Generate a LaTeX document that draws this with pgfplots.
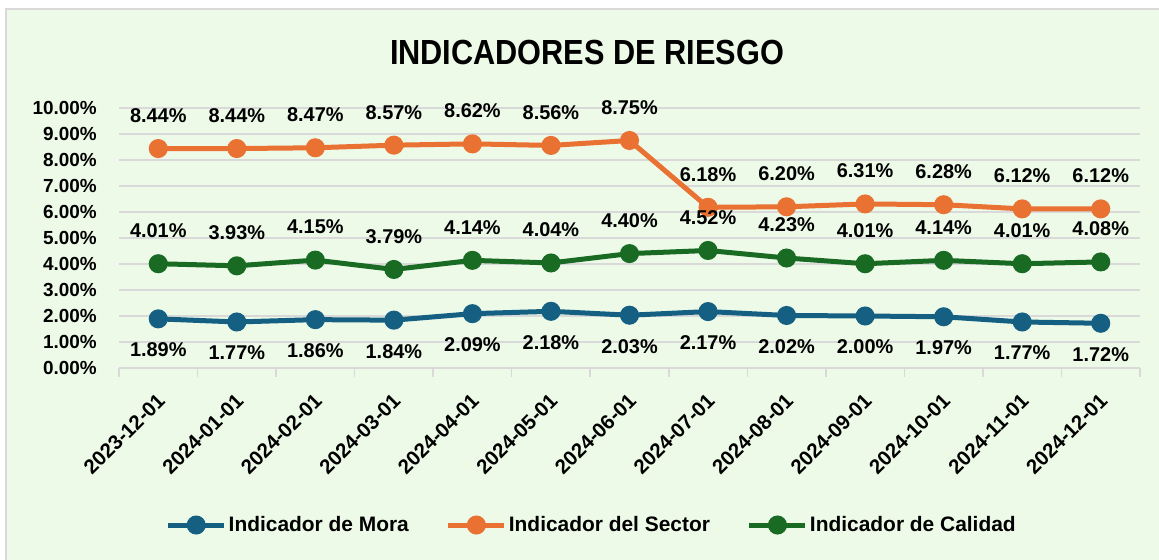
\documentclass[border=0pt]{standalone}
\usepackage{fontspec}
\setmainfont{Liberation Sans}
\usepackage{pgfplots}
\pgfplotsset{compat=1.18}
\usepackage{graphicx}
\definecolor{bgc}{RGB}{237,250,232}
\definecolor{gridc}{RGB}{217,217,217}
\definecolor{mora}{HTML}{156082}
\definecolor{sector}{HTML}{E97132}
\definecolor{calidad}{HTML}{196B24}
\begin{document}
\begin{tikzpicture}
\path[use as bounding box] (0bp,0bp) rectangle (1159bp,560bp);
\fill[white] (0bp,0bp) rectangle (1159bp,560bp);
\fill[bgc] (6bp,0bp) rectangle (1159bp,551bp);
\draw[gridc, line width=2bp] (6bp,0bp) -- (6bp,551bp) -- (1159bp,551bp);
\node[font=\bfseries\fontsize{35}{40}\selectfont, inner sep=0pt] at (587bp,507bp) {\scalebox{0.88}[1]{INDICADORES DE RIESGO}};
\begin{axis}[
  at={(119bp,192bp)}, anchor=south west,
  scale only axis, width=1021bp, height=260bp,
  xmin=-0.5, xmax=12.5, ymin=0, ymax=10,
  clip=false,
  separate axis lines,
  axis x line*=bottom, axis y line*=left,
  x axis line style={gridc, line width=1.5bp, -},
  y axis line style={draw=none},
  /pgf/number format/assume math mode=true,
  major tick length=0pt,
  ytick={0,1,...,10},
  yticklabel={\pgfmathprintnumber[fixed,fixed zerofill,precision=2]{\tick}\%},
  yticklabel style={font=\bfseries\fontsize{19}{22}\selectfont, anchor=east, inner sep=0pt, xshift=-22bp},
  ymajorgrids, grid style={gridc, line width=1.5bp},
  xtick={0,...,12},
  xticklabels={2023-12-01,2024-01-01,2024-02-01,2024-03-01,2024-04-01,2024-05-01,2024-06-01,2024-07-01,2024-08-01,2024-09-01,2024-10-01,2024-11-01,2024-12-01},
  xticklabel style={font=\bfseries\fontsize{20.5}{24}\selectfont, inner sep=0pt, xshift=3bp, yshift=-29bp, rotate=45, anchor=east},
  extra x ticks={-0.5,0.5,...,12.5},
  extra x tick labels={},
  extra x tick style={major tick length=9bp, tick align=outside, tick style={gridc, line width=1.5bp}},
  legend columns=3,
  legend style={at={(0.463,-0.604)}, anchor=center, draw=none, fill=none,
    font=\bfseries\fontsize{21}{25}\selectfont,
    /tikz/every even column/.append style={column sep=35bp}},
  legend image code/.code={\draw[#1, mark repeat=2, mark phase=2] plot coordinates {(0bp,0bp) (28bp,0bp) (56bp,0bp)};},
  every axis plot/.append style={line width=5bp, mark=*, mark size=7bp, mark options={solid}},
  nodes near coords={\pgfmathprintnumber[fixed,fixed zerofill,precision=2]{\pgfplotspointmeta}\%},
]
\addplot[mora, every node near coord/.append style={anchor=center, yshift=-31bp, font=\bfseries\fontsize{20}{24}\selectfont, text=black}] coordinates {
(0,1.89) (1,1.77) (2,1.86) (3,1.84) (4,2.09) (5,2.18) (6,2.03) (7,2.17) (8,2.02) (9,2.00) (10,1.97) (11,1.77) (12,1.72)};
\addlegendentry{Indicador de Mora}
\addplot[sector, every node near coord/.append style={anchor=center, yshift=33bp, font=\bfseries\fontsize{20}{24}\selectfont, text=black}] coordinates {
(0,8.44) (1,8.44) (2,8.47) (3,8.57) (4,8.62) (5,8.56) (6,8.75) (7,6.18) (8,6.20) (9,6.31) (10,6.28) (11,6.12) (12,6.12)};
\addlegendentry{Indicador del Sector}
\addplot[calidad, every node near coord/.append style={anchor=center, yshift=33bp, font=\bfseries\fontsize{20}{24}\selectfont, text=black}] coordinates {
(0,4.01) (1,3.93) (2,4.15) (3,3.79) (4,4.14) (5,4.04) (6,4.40) (7,4.52) (8,4.23) (9,4.01) (10,4.14) (11,4.01) (12,4.08)};
\addlegendentry{Indicador de Calidad}
\end{axis}
\end{tikzpicture}
\end{document}
